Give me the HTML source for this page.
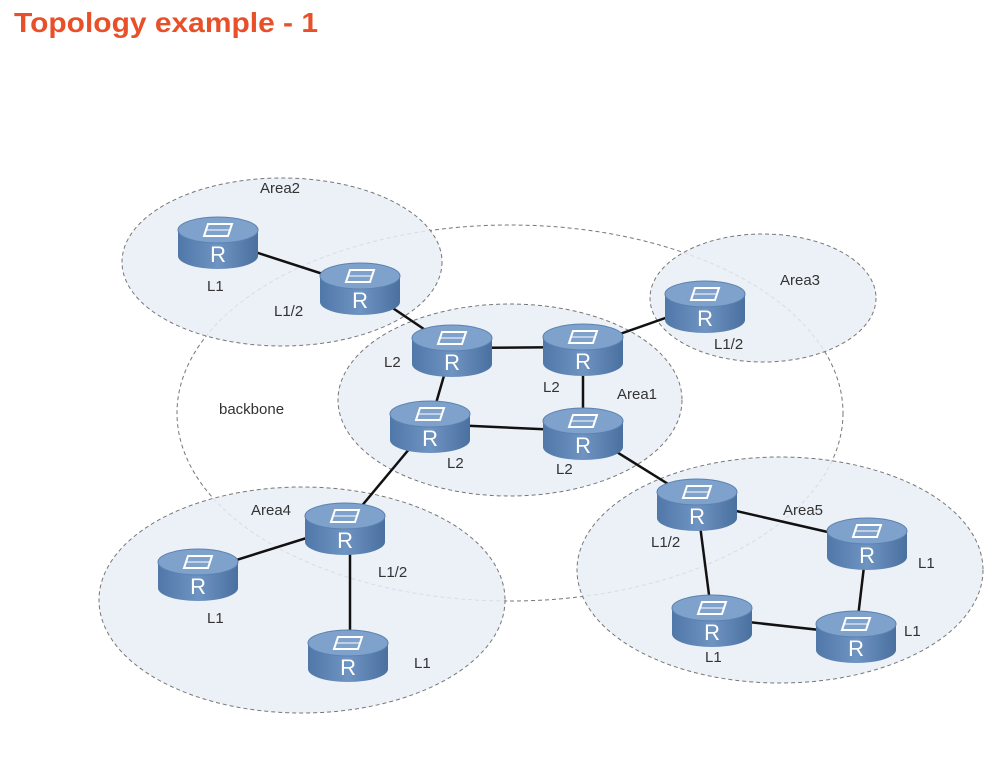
<!DOCTYPE html>
<html><head><meta charset="utf-8"><style>
html,body{margin:0;padding:0;background:#fff;}
svg{display:block;font-family:"Liberation Sans",sans-serif;}
</style></head><body>
<svg width="1002" height="771" viewBox="0 0 1002 771" xmlns="http://www.w3.org/2000/svg">
<defs>
<linearGradient id="body" x1="0" x2="1" y1="0" y2="0">
<stop offset="0" stop-color="#4f77a8"/><stop offset="0.5" stop-color="#6f94c2"/><stop offset="1" stop-color="#4a70a0"/>
</linearGradient>
<g id="r">
<path d="M-40 0 V26 A40 13 0 0 0 40 26 V0 Z" fill="url(#body)"/>
<ellipse cx="0" cy="0" rx="40" ry="13" fill="#7fa2cc" stroke="#5b81b0" stroke-width="1"/>
<path d="M-10 -6 L14 -6 L10 6 L-14 6 Z" fill="none" stroke="#fff" stroke-width="2"/>
<path d="M-12 0 L12 0" stroke="#fff" stroke-width="1"/>
<text x="0" y="32" font-size="22" fill="#fff" text-anchor="middle">R</text>
</g>
</defs>
<text x="14" y="32" font-size="28" font-weight="bold" fill="#e8502a" textLength="304" lengthAdjust="spacingAndGlyphs">Topology example - 1</text>
<g stroke="#777" stroke-width="1" stroke-dasharray="4,3">
<ellipse cx="510" cy="413" rx="333" ry="188" fill="none"/>
<ellipse cx="282" cy="262" rx="160" ry="84" fill="#e9eef6" fill-opacity="0.85"/>
<ellipse cx="763" cy="298" rx="113" ry="64" fill="#e9eef6" fill-opacity="0.85"/>
<ellipse cx="510" cy="400" rx="172" ry="96" fill="#e9eef6" fill-opacity="0.85"/>
<ellipse cx="302" cy="600" rx="203" ry="113" fill="#e9eef6" fill-opacity="0.85"/>
<ellipse cx="780" cy="570" rx="203" ry="113" fill="#e9eef6" fill-opacity="0.85"/>
</g>
<g stroke="#111" stroke-width="2.5">
<line x1="218" y1="240" x2="360" y2="286"/>
<line x1="360" y1="286" x2="452" y2="348"/>
<line x1="452" y1="348" x2="583" y2="347"/>
<line x1="583" y1="347" x2="705" y2="304"/>
<line x1="452" y1="348" x2="430" y2="424"/>
<line x1="583" y1="347" x2="583" y2="431"/>
<line x1="430" y1="424" x2="583" y2="431"/>
<line x1="430" y1="424" x2="345" y2="526"/>
<line x1="583" y1="431" x2="697" y2="502"/>
<line x1="345" y1="526" x2="198" y2="572"/>
<line x1="350" y1="526" x2="350" y2="653"/>
<line x1="697" y1="502" x2="867" y2="541"/>
<line x1="697" y1="502" x2="712" y2="618"/>
<line x1="712" y1="618" x2="856" y2="634"/>
<line x1="867" y1="541" x2="856" y2="634"/>
</g>
<use href="#r" x="218" y="230"/>
<use href="#r" x="360" y="276"/>
<use href="#r" x="452" y="338"/>
<use href="#r" x="583" y="337"/>
<use href="#r" x="705" y="294"/>
<use href="#r" x="430" y="414"/>
<use href="#r" x="583" y="421"/>
<use href="#r" x="345" y="516"/>
<use href="#r" x="198" y="562"/>
<use href="#r" x="348" y="643"/>
<use href="#r" x="697" y="492"/>
<use href="#r" x="867" y="531"/>
<use href="#r" x="712" y="608"/>
<use href="#r" x="856" y="624"/>
<g font-size="15" fill="#333">
<text x="260" y="193">Area2</text>
<text x="780" y="285">Area3</text>
<text x="617" y="399">Area1</text>
<text x="251" y="515">Area4</text>
<text x="783" y="515">Area5</text>
<text x="219" y="414">backbone</text>
<text x="207" y="291">L1</text>
<text x="274" y="316">L1/2</text>
<text x="384" y="367">L2</text>
<text x="543" y="392">L2</text>
<text x="714" y="349">L1/2</text>
<text x="447" y="468">L2</text>
<text x="556" y="474">L2</text>
<text x="378" y="577">L1/2</text>
<text x="207" y="623">L1</text>
<text x="414" y="668">L1</text>
<text x="651" y="547">L1/2</text>
<text x="918" y="568">L1</text>
<text x="705" y="662">L1</text>
<text x="904" y="636">L1</text>
</g>
</svg>
</body></html>
